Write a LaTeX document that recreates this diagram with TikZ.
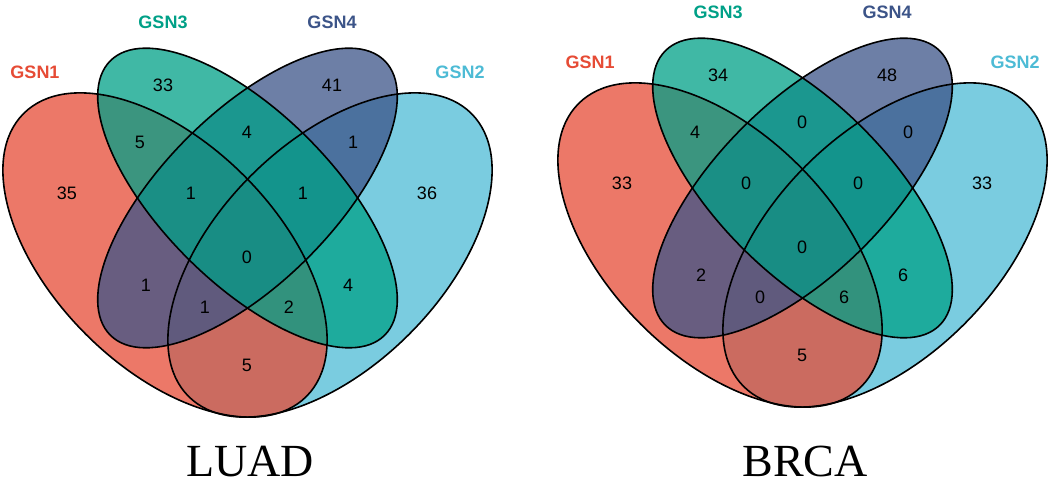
\documentclass[tikz,border=0pt]{standalone}
\usepackage{fontspec}
\setmainfont{Liberation Serif}
\setsansfont{Liberation Sans}
\usetikzlibrary{positioning}
\definecolor{gsnred}{HTML}{E64B35}
\definecolor{gsncyan}{HTML}{4DBBD5}
\definecolor{gsngreen}{HTML}{00A087}
\definecolor{gsnblue}{HTML}{3C5488}
\tikzset{
    setfill/.style={fill=#1, fill opacity=0.75, draw=none},
    setline/.style={draw=black, line width=1.6pt},
    setname/.style={inner sep=0pt, text=#1, font=\sffamily\bfseries\fontsize{18}{18}\selectfont},
    count/.style={inner sep=0pt, font=\sffamily\fontsize{18}{18}\selectfont},
    cohort/.style={inner sep=0pt, anchor=base, text depth=0pt, font=\rmfamily\fontsize{46}{46}\selectfont}
}
\begin{document}
\begin{tikzpicture}[x=1pt, y=1pt]
    \useasboundingbox (0,0) rectangle (1059,486);
    % big pair (GSN1, GSN2) and small pair (GSN3, GSN4)
    \def \bigA {200}
    \def \bigB {112}
    \def \smallA {194}
    \def \smallB {85}
    \foreach \dx/\dy/\cname in {0/0/luad, 555/10/brca}{
    \begin{scope}[shift={(\dx,\dy)}]
    \coordinate (\cname-c1) at (165, 231);
    \coordinate (\cname-c2) at (330, 231);
    \coordinate (\cname-c3) at (247.5, 288);
    \coordinate (\cname-c4) at (247.5, 288);
    \fill[setfill=gsncyan] (\cname-c2) ellipse [x radius=\bigA, y radius=\bigB, rotate=45];
    \fill[setfill=gsnred] (\cname-c1) ellipse [x radius=\bigA, y radius=\bigB, rotate=-45];
    \fill[setfill=gsnblue] (\cname-c4) ellipse [x radius=\smallA, y radius=\smallB, rotate=45];
    \fill[setfill=gsngreen] (\cname-c3) ellipse [x radius=\smallA, y radius=\smallB, rotate=-45];
    \draw[setline] (\cname-c2) ellipse [x radius=\bigA, y radius=\bigB, rotate=45];
    \draw[setline] (\cname-c1) ellipse [x radius=\bigA, y radius=\bigB, rotate=-45];
    \draw[setline] (\cname-c4) ellipse [x radius=\smallA, y radius=\smallB, rotate=45];
    \draw[setline] (\cname-c3) ellipse [x radius=\smallA, y radius=\smallB, rotate=-45];
    \node[setname=gsnred] (\cname-gsn1) at (35, 414) {GSN1};
    \node[setname=gsngreen] (\cname-gsn3) at (163, 464) {GSN3};
    \node[setname=gsnblue] (\cname-gsn4) at (332, 464) {GSN4};
    \node[setname=gsncyan] (\cname-gsn2) at (460, 414) {GSN2};
    \end{scope}
    }
    % region counts: x / y / LUAD / BRCA
    \foreach \x/\y/\na/\nb [count=\i] in {
        163/401/33/34, 332/401/41/48,
        140/344/5/4, 247/354/4/0, 353/344/1/0,
        67/293/35/33, 191/293/1/0, 303/293/1/0, 427/293/36/33,
        247/229/0/0,
        146/201/1/2, 348/201/4/6,
        205/179/1/0, 289/179/2/6,
        247/121/5/5}{
        \node[count] (luad-n\i) at (\x, \y) {\na};
        \node[count] (brca-n\i) at (\x+555, \y+10) {\nb};
    }
    \node[cohort] (luad) at (250, 9) {LUAD};
    \node[cohort] (brca) at (805, 9) {BRCA};
\end{tikzpicture}
\end{document}
